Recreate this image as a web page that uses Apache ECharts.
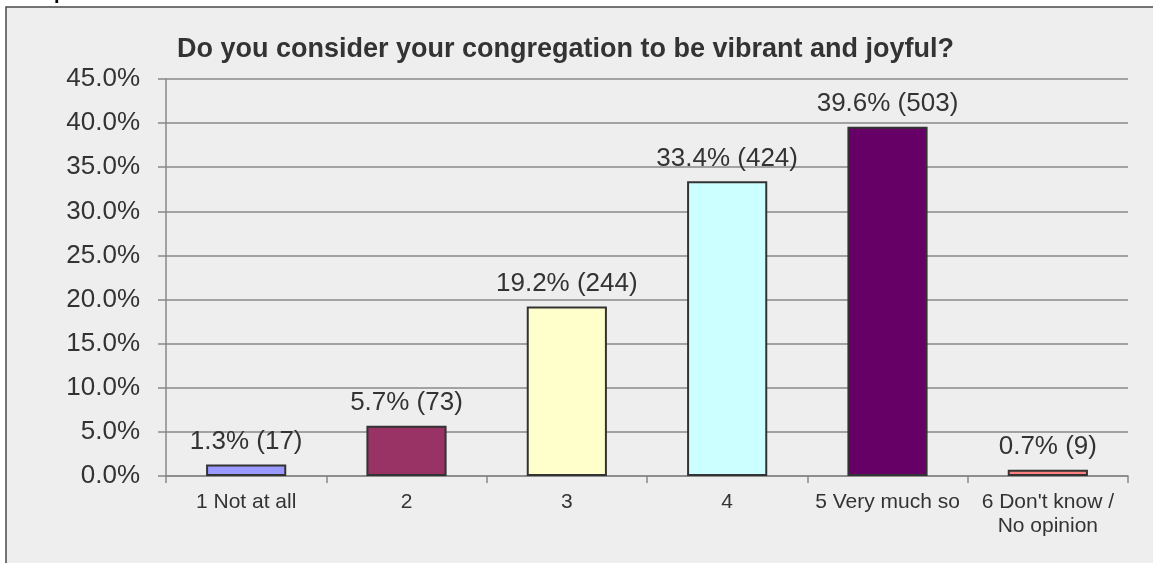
<!DOCTYPE html>
<html>
<head>
<meta charset="utf-8">
<script src="https://cdn.jsdelivr.net/npm/echarts@6/dist/echarts.min.js"></script>
<style>
  html, body { margin: 0; padding: 0; background: #ffffff; }
  #chart { width: 1153px; height: 563px; }
</style>
</head>
<body>
<div id="chart"></div>
<script>
// values
var categories = ['1 Not at all', '2', '3', '4', '5 Very much so', "6 Don't know /\nNo opinion"];
var percents = [1.3, 5.7, 19.2, 33.4, 39.6, 0.7];
var counts = [17, 73, 244, 424, 503, 9];
var barColors = ['#9999ff', '#993366', '#ffffcc', '#ccffff', '#660066', '#ff8080'];
var titleText = 'Do you consider your congregation to be vibrant and joyful?';

var chart = echarts.init(document.getElementById('chart'));

var barData = percents.map(function(v, i) {
    return { value: v, itemStyle: { color: barColors[i] } };
});

var option = {
    backgroundColor: '#ffffff',
    animation: false,
    textStyle: { fontFamily: 'Liberation Sans, Arial, sans-serif' },
    graphic: [
        {
            type: 'rect',
            z: -10,
            shape: { x: 6, y: 7, width: 1160, height: 570 },
            style: { fill: '#eeeeee', stroke: '#4a4a4a', lineWidth: 1.5 }
        },
        {
            type: 'text',
            left: 54,
            top: -17,
            z: -5,
            style: { text: 'p', fill: '#000', font: 'bold 20px Liberation Sans' }
        }
    ],
    title: {
        text: titleText,
        left: 172,
        top: 31,
        textStyle: {
            fontSize: 27,
            fontWeight: 'bold',
            color: '#333333',
            fontFamily: 'Liberation Sans, Arial, sans-serif'
        }
    },
    grid: { left: 166, top: 79, right: 25, bottom: 87 },
    xAxis: {
        type: 'category',
        data: categories,
        axisLine: { show: true, lineStyle: { color: '#888888', width: 1.5 } },
        axisTick: { show: true, alignWithLabel: false, length: 7, lineStyle: { color: '#888888', width: 1.5 } },
        axisLabel: { color: '#333333', fontSize: 21, margin: 14, lineHeight: 24, interval: 0 }
    },
    yAxis: {
        type: 'value',
        min: 0,
        max: 45,
        interval: 5,
        axisLine: { show: true, lineStyle: { color: '#888888', width: 1.5 } },
        axisTick: { show: true, length: 8, lineStyle: { color: '#888888', width: 1.5 } },
        splitLine: { show: true, lineStyle: { color: '#888888', width: 1.5 } },
        axisLabel: {
            color: '#333333',
            fontSize: 26,
            margin: 26,
            formatter: function(v) { return v.toFixed(1) + '%'; }
        }
    },
    series: [{
        type: 'bar',
        data: barData,
        barWidth: '50%',
        itemStyle: { borderColor: '#333333', borderWidth: 2 },
        label: {
            show: true,
            position: 'top',
            distance: 10,
            fontSize: 26,
            color: '#333333',
            formatter: function(p) {
                return percents[p.dataIndex].toFixed(1) + '% (' + counts[p.dataIndex] + ')';
            }
        }
    }]
};

chart.setOption(option);
</script>
</body>
</html>
